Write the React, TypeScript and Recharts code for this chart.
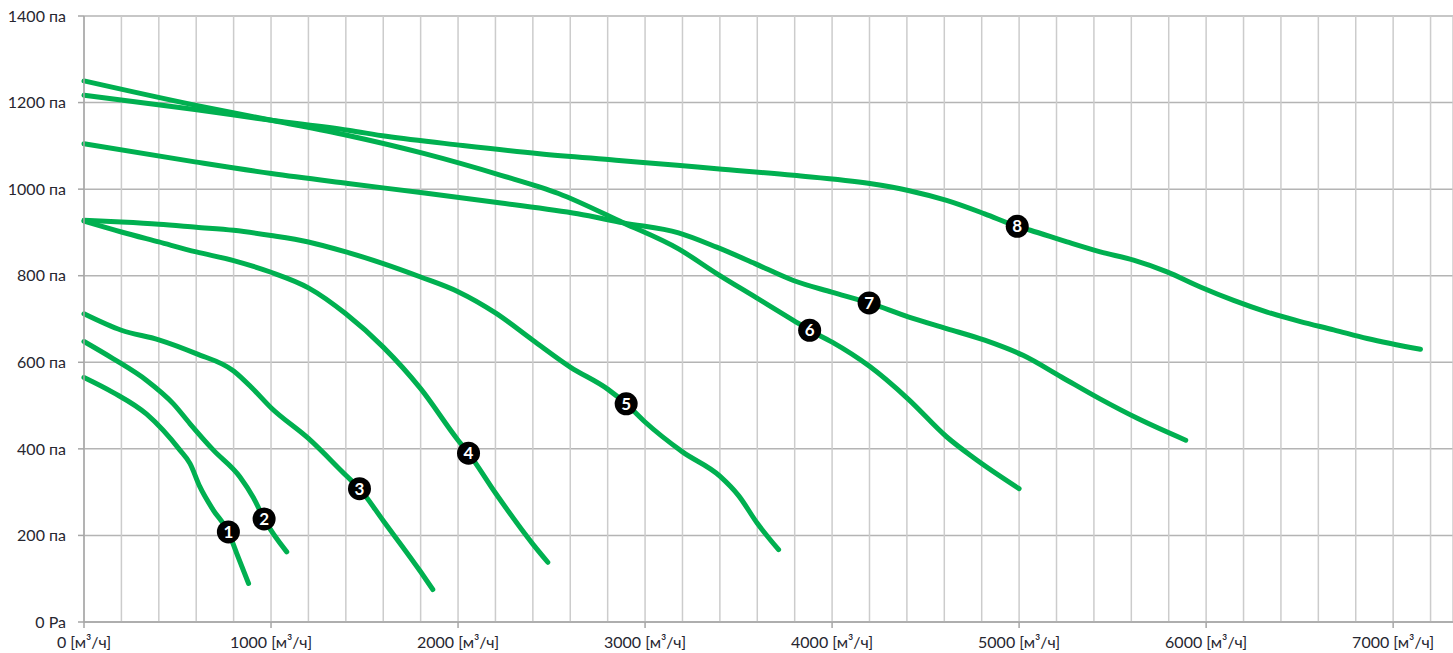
import React from "react";
import {
  LineChart,
  Line,
  XAxis,
  YAxis,
  CartesianGrid,
  ReferenceDot,
} from "recharts";

// Fan curves: flow [м³/ч] vs pressure [Па]
const flow1 = [0, 157, 335, 513, 567, 620, 692, 772, 817, 880];
const pressure1 = [565, 530, 480, 397, 366, 312, 258, 208, 158, 89];

const flow2 = [0, 157, 335, 478, 567, 692, 834, 906, 963, 1084];
const pressure2 = [648, 608, 558, 504, 458, 397, 335, 287, 238, 162];

const flow3 = [0, 200, 400, 600, 800, 900, 1000, 1200, 1400, 1473, 1600, 1800, 1865];
const pressure3 = [712, 674, 652, 620, 580, 540, 495, 424, 339, 308, 234, 116, 75];

const flow4 = [0, 200, 400, 600, 800, 1000, 1200, 1400, 1600, 1800, 2000, 2056, 2200, 2400, 2480];
const pressure4 = [926, 901, 878, 855, 835, 808, 772, 712, 635, 539, 420, 390, 298, 180, 138];

const flow5 = [0, 200, 400, 600, 800, 1000, 1200, 1400, 1600, 1800, 2000, 2200, 2400, 2600, 2800, 2899, 3000, 3200, 3400, 3500, 3600, 3714];
const pressure5 = [928, 924, 919, 912, 905, 893, 878, 855, 828, 797, 763, 714, 651, 589, 538, 504, 462, 393, 337, 292, 228, 167];

const flow6 = [0, 593, 1002, 1412, 1821, 2230, 2537, 2885, 3179, 3383, 3588, 3793, 3880, 3998, 4202, 4407, 4612, 4755, 5000];
const pressure6 = [1250, 1194, 1159, 1124, 1082, 1032, 990, 922, 862, 805, 751, 697, 674, 647, 590, 515, 428, 380, 308];

const flow7 = [0, 593, 1002, 1412, 1821, 2230, 2640, 2885, 3179, 3383, 3588, 3793, 3998, 4198, 4407, 4612, 4816, 5021, 5226, 5430, 5635, 5891];
const pressure7 = [1105, 1063, 1036, 1013, 991, 968, 943, 922, 899, 866, 828, 789, 762, 737, 705, 678, 651, 616, 566, 516, 470, 420];

const flow8 = [0, 593, 1002, 1412, 1616, 2025, 2435, 2844, 3172, 3383, 3793, 4202, 4407, 4612, 4816, 4990, 5060, 5256, 5434, 5612, 5791, 5969, 6147, 6326, 6504, 6682, 6861, 7146];
const pressure8 = [1217, 1184, 1159, 1136, 1122, 1101, 1082, 1067, 1055, 1047, 1032, 1013, 997, 974, 943, 914, 905, 878, 855, 836, 809, 774, 743, 716, 694, 675, 655, 630];

// numbered markers on each curve
const markerLabels = ["1", "2", "3", "4", "5", "6", "7", "8"];
const markerFlow = [772, 963, 1473, 2056, 2899, 3880, 4198, 4990];
const markerPressure = [208, 238, 308, 390, 504, 674, 737, 914];

const xTicks = Array.from({ length: 37 }, (_, i) => i * 200);
const yTicks = [0, 200, 400, 600, 800, 1000, 1200, 1400];

const curves = [
  [flow1, pressure1],
  [flow2, pressure2],
  [flow3, pressure3],
  [flow4, pressure4],
  [flow5, pressure5],
  [flow6, pressure6],
  [flow7, pressure7],
  [flow8, pressure8],
].map(([xs, ys]) => xs.map((x, i) => ({ x, y: ys[i] })));

const GREEN = "#00B050";
const FONT = "Lato, 'Open Sans', sans-serif";
const TEXT = "#262630";

function XTick(props: any) {
  const { x, y, payload } = props;
  if (payload.value % 1000 !== 0) return <g />;
  return (
    <g>
      <line x1={x} x2={x} y1={y} y2={y + 6} stroke="#a6a6a6" strokeWidth={1.5} />
      <text
        x={x}
        y={y + 26}
        textAnchor="middle"
        fontSize={16}
        fontFamily={FONT}
        fill={TEXT}
      >
        {`${payload.value} [м³/ч]`}
      </text>
    </g>
  );
}

function markerShape(label: string) {
  return (props: any) => (
    <g>
      <circle cx={props.cx} cy={props.cy} r={11.5} fill="#000" />
      <text
        x={props.cx}
        y={props.cy + 6}
        textAnchor="middle"
        fontSize={17}
        fontWeight={700}
        fontFamily={FONT}
        fill="#fff"
      >
        {label}
      </text>
    </g>
  );
}

export default function App() {
  return (
    <div style={{ position: "fixed", left: 0, top: 0, background: "#fff" }}>
      <LineChart
        width={1453}
        height={653}
        margin={{ top: 16, right: 0, left: 0, bottom: 0 }}
      >
        <CartesianGrid vertical={false} stroke="#b4b4b4" strokeWidth={1.5} />
        <CartesianGrid horizontal={false} stroke="#cccccc" strokeWidth={1.5} />
        <XAxis
          type="number"
          dataKey="x"
          domain={[0, 7320]}
          ticks={xTicks}
          interval={0}
          height={31}
          tickSize={0}
          tickMargin={0}
          tickLine={false}
          axisLine={{ stroke: "#a6a6a6", strokeWidth: 1.5 }}
          tick={<XTick />}
        />
        <YAxis
          type="number"
          dataKey="y"
          domain={[0, 1400]}
          ticks={yTicks}
          interval={0}
          width={84}
          tickSize={6}
          tickMargin={12}
          tickLine={{ stroke: "#a6a6a6", strokeWidth: 1.5 }}
          axisLine={{ stroke: "#a6a6a6", strokeWidth: 1.5 }}
          tick={{ fontSize: 16, fontFamily: FONT, fill: TEXT }}
          tickFormatter={(v: number) => (v === 0 ? "0 Pa" : `${v} па`)}
        />
        {curves.map((data, i) => (
          <Line
            key={i}
            data={data}
            dataKey="y"
            type="monotone"
            stroke={GREEN}
            strokeWidth={5}
            strokeLinecap="round"
            dot={false}
            activeDot={false}
            isAnimationActive={false}
          />
        ))}
        {markerLabels.map((label, i) => (
          <ReferenceDot
            key={label}
            x={markerFlow[i]}
            y={markerPressure[i]}
            r={11.5}
            shape={markerShape(label)}
          />
        ))}
      </LineChart>
    </div>
  );
}
